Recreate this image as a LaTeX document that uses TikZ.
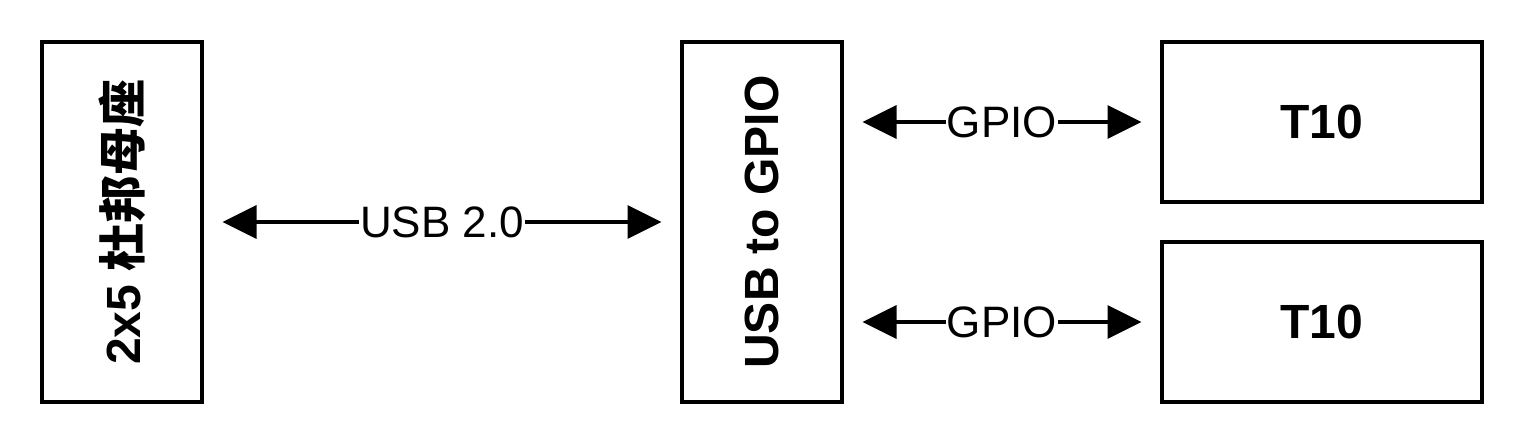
\documentclass[tikz,border=0pt]{standalone}
\usepackage{fontspec}
\setmainfont{Liberation Sans}
\newfontfamily\cjk{Noto Sans CJK TC}
\usetikzlibrary{arrows.meta,calc}
\begin{document}
\begin{tikzpicture}[x=1pt,y=1pt,
  box/.style={draw=black, line width=4pt, inner sep=0pt, fill=white},
  conn/.style={line width=3.5pt, {Triangle[length=34pt,width=33pt]}-{Triangle[length=34pt,width=33pt]}, shorten <=18.5pt, shorten >=18.5pt},
  lbl/.style={fill=white, inner sep=1pt, font=\fontsize{44}{52}\selectfont},
  big/.style={font=\fontsize{48}{58}\selectfont\bfseries}]
\useasboundingbox (0,0) rectangle (1524,444);
\node[box, minimum width=160pt, minimum height=360pt, big] (l) at (122,222) {\rotatebox{90}{2x5 {\cjk\bfseries 杜邦母座}}};
\node[box, minimum width=160pt, minimum height=360pt, big] (m) at (762,222) {\rotatebox{90}{USB to GPIO}};
\node[box, minimum width=320pt, minimum height=160pt, big] (t1) at (1322,322) {T10};
\node[box, minimum width=320pt, minimum height=160pt, big] (t2) at (1322,122) {T10};
\draw[conn] (l.east) -- node[lbl] {USB 2.0} (m.west);
\draw[conn] (m.east |- t1.west) -- node[lbl] {GPIO} (t1.west);
\draw[conn] (m.east |- t2.west) -- node[lbl] {GPIO} (t2.west);
\end{tikzpicture}
\end{document}
